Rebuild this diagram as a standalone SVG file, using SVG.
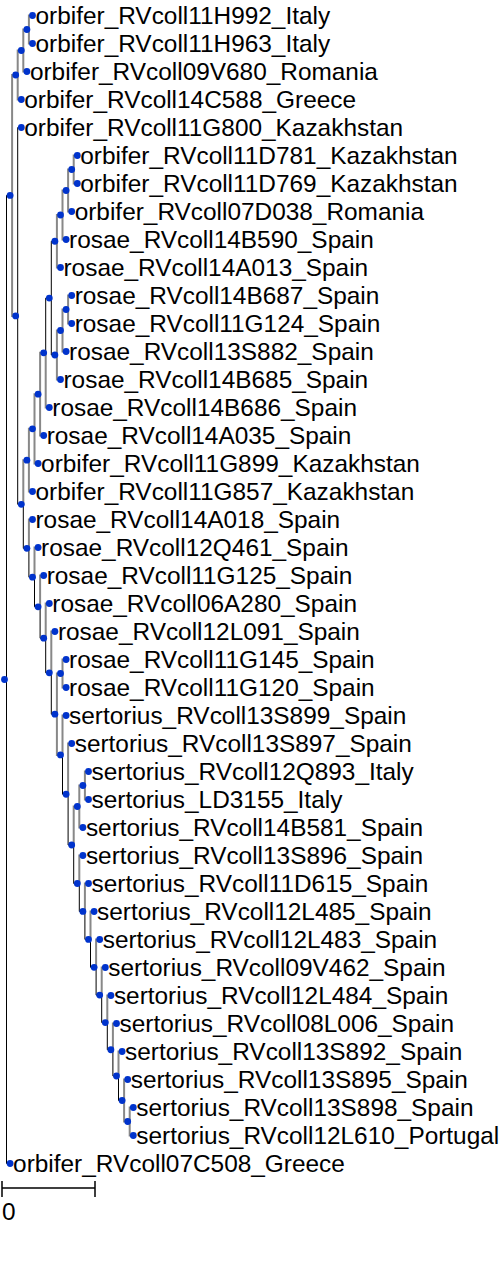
<svg xmlns="http://www.w3.org/2000/svg" width="500" height="1272" viewBox="0 0 500 1272">
<style>
.k{fill:none;stroke:#000;stroke-width:1}
.g{fill:none;stroke:#888;stroke-width:2}
.d{fill:#0033cc}
.t{font-family:"Liberation Sans",Arial,sans-serif;font-size:24.4px;fill:#000}
</style>
<rect width="500" height="1272" fill="#fff"/>
<g id="connectors">
<path class="k" d="M6.5 679.5V195.4H10.1"/>
<path class="k" d="M6.5 679.5V1163.5H10.1"/>
<path class="g" d="M12.1 195.4V75H15.7"/>
<path class="g" d="M12.1 195.4V315.9H15.7"/>
<path class="g" d="M17.7 75V50.5H21.3"/>
<path class="g" d="M17.7 75V99.5H21.3"/>
<path class="g" d="M23.3 50.5V29.5H26.9"/>
<path class="g" d="M23.3 50.5V71.5H26.9"/>
<path class="g" d="M28.9 29.5V15.5H32.5"/>
<path class="g" d="M28.9 29.5V43.5H32.5"/>
<path class="k" d="M17.7 315.9V127.5H21.3"/>
<path class="k" d="M17.7 315.9V504.3H21.3"/>
<path class="g" d="M23.3 504.3V460.2H26.9"/>
<path class="k" d="M23.3 504.3V548.3H26.9"/>
<path class="g" d="M28.9 460.2V428.8H32.5"/>
<path class="g" d="M28.9 460.2V491.5H32.5"/>
<path class="g" d="M34.5 428.8V394.2H38.1"/>
<path class="g" d="M34.5 428.8V463.5H38.1"/>
<path class="g" d="M40.1 394.2V352.8H43.7"/>
<path class="g" d="M40.1 394.2V435.5H43.7"/>
<path class="k" d="M45.7 352.8V298.1H49.3"/>
<path class="g" d="M45.7 352.8V407.5H49.3"/>
<path class="k" d="M51.3 298.1V241.25H54.9"/>
<path class="k" d="M51.3 298.1V355H54.9"/>
<path class="g" d="M56.9 241.25V215H60.5"/>
<path class="g" d="M56.9 241.25V267.5H60.5"/>
<path class="g" d="M62.5 215V190.5H66.1"/>
<path class="g" d="M62.5 215V239.5H66.1"/>
<path class="g" d="M68.1 190.5V169.5H71.7"/>
<path class="g" d="M68.1 190.5V211.5H71.7"/>
<path class="g" d="M73.7 169.5V155.5H77.3"/>
<path class="g" d="M73.7 169.5V183.5H77.3"/>
<path class="g" d="M56.9 355V330.5H60.5"/>
<path class="g" d="M56.9 355V379.5H60.5"/>
<path class="g" d="M62.5 330.5V309.5H66.1"/>
<path class="g" d="M62.5 330.5V351.5H66.1"/>
<path class="g" d="M68.1 309.5V295.5H71.7"/>
<path class="g" d="M68.1 309.5V323.5H71.7"/>
<path class="g" d="M28.9 548.3V519.5H32.5"/>
<path class="k" d="M28.9 548.3V577.2H32.5"/>
<path class="g" d="M34.5 577.2V547.5H38.1"/>
<path class="k" d="M34.5 577.2V606.8H38.1"/>
<path class="g" d="M40.1 606.8V575.5H43.7"/>
<path class="k" d="M40.1 606.8V638.2H43.7"/>
<path class="g" d="M45.7 638.2V603.5H49.3"/>
<path class="k" d="M45.7 638.2V672.85H49.3"/>
<path class="g" d="M51.3 672.85V631.5H54.9"/>
<path class="k" d="M51.3 672.85V714.2H54.9"/>
<path class="g" d="M56.9 714.2V673.5H60.5"/>
<path class="g" d="M56.9 714.2V754.9H60.5"/>
<path class="g" d="M62.5 673.5V659.5H66.1"/>
<path class="g" d="M62.5 673.5V687.5H66.1"/>
<path class="g" d="M62.5 754.9V715.5H66.1"/>
<path class="k" d="M62.5 754.9V794.25H66.1"/>
<path class="g" d="M68.1 794.25V743.5H71.7"/>
<path class="k" d="M68.1 794.25V845H71.7"/>
<path class="g" d="M73.7 845V806.5H77.3"/>
<path class="k" d="M73.7 845V883.5H77.3"/>
<path class="g" d="M79.3 806.5V785.5H82.9"/>
<path class="g" d="M79.3 806.5V827.5H82.9"/>
<path class="g" d="M84.9 785.5V771.5H88.5"/>
<path class="g" d="M84.9 785.5V799.5H88.5"/>
<path class="g" d="M79.3 883.5V855.5H82.9"/>
<path class="k" d="M79.3 883.5V911.45H82.9"/>
<path class="g" d="M84.9 911.45V883.5H88.5"/>
<path class="k" d="M84.9 911.45V939.4H88.5"/>
<path class="g" d="M90.5 939.4V911.5H94.1"/>
<path class="k" d="M90.5 939.4V967.3H94.1"/>
<path class="g" d="M96.1 967.3V939.5H99.7"/>
<path class="k" d="M96.1 967.3V995.1H99.7"/>
<path class="g" d="M101.7 995.1V967.5H105.3"/>
<path class="k" d="M101.7 995.1V1022.6H105.3"/>
<path class="g" d="M107.3 1022.6V995.5H110.9"/>
<path class="k" d="M107.3 1022.6V1049.75H110.9"/>
<path class="g" d="M112.9 1049.75V1023.5H116.5"/>
<path class="k" d="M112.9 1049.75V1076H116.5"/>
<path class="g" d="M118.5 1076V1051.5H122.1"/>
<path class="k" d="M118.5 1076V1100.5H122.1"/>
<path class="g" d="M124.1 1100.5V1079.5H127.7"/>
<path class="g" d="M124.1 1100.5V1121.5H127.7"/>
<path class="g" d="M129.7 1121.5V1107.5H133.3"/>
<path class="g" d="M129.7 1121.5V1135.5H133.3"/>
</g>
<g id="internal-nodes">
<circle id="n-root" class="d" cx="4.5" cy="679.5" r="3.4"/>
<circle id="n-A" class="d" cx="10.1" cy="195.4" r="3.4"/>
<circle id="n-B" class="d" cx="15.7" cy="75" r="3.4"/>
<circle id="n-123" class="d" cx="21.3" cy="50.5" r="3.4"/>
<circle id="n-12" class="d" cx="26.9" cy="29.5" r="3.4"/>
<circle id="n-C" class="d" cx="15.7" cy="315.9" r="3.4"/>
<circle id="n-U" class="d" cx="21.3" cy="504.3" r="3.4"/>
<circle id="n-T" class="d" cx="26.9" cy="460.2" r="3.4"/>
<circle id="n-S" class="d" cx="32.5" cy="428.8" r="3.4"/>
<circle id="n-R" class="d" cx="38.1" cy="394.2" r="3.4"/>
<circle id="n-Q" class="d" cx="43.7" cy="352.8" r="3.4"/>
<circle id="n-P" class="d" cx="49.3" cy="298.1" r="3.4"/>
<circle id="n-N10" class="d" cx="54.9" cy="241.25" r="3.4"/>
<circle id="n-N9" class="d" cx="60.5" cy="215" r="3.4"/>
<circle id="n-678" class="d" cx="66.1" cy="190.5" r="3.4"/>
<circle id="n-67" class="d" cx="71.7" cy="169.5" r="3.4"/>
<circle id="n-N14" class="d" cx="54.9" cy="355" r="3.4"/>
<circle id="n-N13" class="d" cx="60.5" cy="330.5" r="3.4"/>
<circle id="n-1112" class="d" cx="66.1" cy="309.5" r="3.4"/>
<circle id="n-X" class="d" cx="26.9" cy="548.3" r="3.4"/>
<circle id="n-d5" class="d" cx="32.5" cy="577.2" r="3.4"/>
<circle id="n-d6" class="d" cx="38.1" cy="606.8" r="3.4"/>
<circle id="n-d7" class="d" cx="43.7" cy="638.2" r="3.4"/>
<circle id="n-d8" class="d" cx="49.3" cy="672.85" r="3.4"/>
<circle id="n-d9" class="d" cx="54.9" cy="714.2" r="3.4"/>
<circle id="n-2425" class="d" cx="60.5" cy="673.5" r="3.4"/>
<circle id="n-d10" class="d" cx="60.5" cy="754.9" r="3.4"/>
<circle id="n-d11" class="d" cx="66.1" cy="794.25" r="3.4"/>
<circle id="n-d12" class="d" cx="71.7" cy="845" r="3.4"/>
<circle id="n-807" class="d" cx="77.3" cy="806.5" r="3.4"/>
<circle id="n-786" class="d" cx="82.9" cy="785.5" r="3.4"/>
<circle id="n-d13" class="d" cx="77.3" cy="883.5" r="3.4"/>
<circle id="n-d14" class="d" cx="82.9" cy="911.45" r="3.4"/>
<circle id="n-d15" class="d" cx="88.5" cy="939.4" r="3.4"/>
<circle id="n-d16" class="d" cx="94.1" cy="967.3" r="3.4"/>
<circle id="n-d17" class="d" cx="99.7" cy="995.1" r="3.4"/>
<circle id="n-d18" class="d" cx="105.3" cy="1022.6" r="3.4"/>
<circle id="n-d19" class="d" cx="110.9" cy="1049.75" r="3.4"/>
<circle id="n-d20" class="d" cx="116.5" cy="1076" r="3.4"/>
<circle id="n-d21" class="d" cx="122.1" cy="1100.5" r="3.4"/>
<circle id="n-d22" class="d" cx="127.7" cy="1121.5" r="3.4"/>
</g>
<g id="leaf1"><circle class="d" cx="32.5" cy="15.5" r="3.4"/><text class="t" x="35.5" y="24.3">orbifer_RVcoll11H992_Italy</text></g>
<g id="leaf2"><circle class="d" cx="32.5" cy="43.5" r="3.4"/><text class="t" x="35.5" y="52.3">orbifer_RVcoll11H963_Italy</text></g>
<g id="leaf3"><circle class="d" cx="26.9" cy="71.5" r="3.4"/><text class="t" x="29.9" y="80.3">orbifer_RVcoll09V680_Romania</text></g>
<g id="leaf4"><circle class="d" cx="21.3" cy="99.5" r="3.4"/><text class="t" x="24.3" y="108.3">orbifer_RVcoll14C588_Greece</text></g>
<g id="leaf5"><circle class="d" cx="21.3" cy="127.5" r="3.4"/><text class="t" x="24.3" y="136.3">orbifer_RVcoll11G800_Kazakhstan</text></g>
<g id="leaf6"><circle class="d" cx="77.3" cy="155.5" r="3.4"/><text class="t" x="80.3" y="164.3">orbifer_RVcoll11D781_Kazakhstan</text></g>
<g id="leaf7"><circle class="d" cx="77.3" cy="183.5" r="3.4"/><text class="t" x="80.3" y="192.3">orbifer_RVcoll11D769_Kazakhstan</text></g>
<g id="leaf8"><circle class="d" cx="71.7" cy="211.5" r="3.4"/><text class="t" x="74.7" y="220.3">orbifer_RVcoll07D038_Romania</text></g>
<g id="leaf9"><circle class="d" cx="66.1" cy="239.5" r="3.4"/><text class="t" x="69.1" y="248.3">rosae_RVcoll14B590_Spain</text></g>
<g id="leaf10"><circle class="d" cx="60.5" cy="267.5" r="3.4"/><text class="t" x="63.5" y="276.3">rosae_RVcoll14A013_Spain</text></g>
<g id="leaf11"><circle class="d" cx="71.7" cy="295.5" r="3.4"/><text class="t" x="74.7" y="304.3">rosae_RVcoll14B687_Spain</text></g>
<g id="leaf12"><circle class="d" cx="71.7" cy="323.5" r="3.4"/><text class="t" x="74.7" y="332.3">rosae_RVcoll11G124_Spain</text></g>
<g id="leaf13"><circle class="d" cx="66.1" cy="351.5" r="3.4"/><text class="t" x="69.1" y="360.3">rosae_RVcoll13S882_Spain</text></g>
<g id="leaf14"><circle class="d" cx="60.5" cy="379.5" r="3.4"/><text class="t" x="63.5" y="388.3">rosae_RVcoll14B685_Spain</text></g>
<g id="leaf15"><circle class="d" cx="49.3" cy="407.5" r="3.4"/><text class="t" x="52.3" y="416.3">rosae_RVcoll14B686_Spain</text></g>
<g id="leaf16"><circle class="d" cx="43.7" cy="435.5" r="3.4"/><text class="t" x="46.7" y="444.3">rosae_RVcoll14A035_Spain</text></g>
<g id="leaf17"><circle class="d" cx="38.1" cy="463.5" r="3.4"/><text class="t" x="41.1" y="472.3">orbifer_RVcoll11G899_Kazakhstan</text></g>
<g id="leaf18"><circle class="d" cx="32.5" cy="491.5" r="3.4"/><text class="t" x="35.5" y="500.3">orbifer_RVcoll11G857_Kazakhstan</text></g>
<g id="leaf19"><circle class="d" cx="32.5" cy="519.5" r="3.4"/><text class="t" x="35.5" y="528.3">rosae_RVcoll14A018_Spain</text></g>
<g id="leaf20"><circle class="d" cx="38.1" cy="547.5" r="3.4"/><text class="t" x="41.1" y="556.3">rosae_RVcoll12Q461_Spain</text></g>
<g id="leaf21"><circle class="d" cx="43.7" cy="575.5" r="3.4"/><text class="t" x="46.7" y="584.3">rosae_RVcoll11G125_Spain</text></g>
<g id="leaf22"><circle class="d" cx="49.3" cy="603.5" r="3.4"/><text class="t" x="52.3" y="612.3">rosae_RVcoll06A280_Spain</text></g>
<g id="leaf23"><circle class="d" cx="54.9" cy="631.5" r="3.4"/><text class="t" x="57.9" y="640.3">rosae_RVcoll12L091_Spain</text></g>
<g id="leaf24"><circle class="d" cx="66.1" cy="659.5" r="3.4"/><text class="t" x="69.1" y="668.3">rosae_RVcoll11G145_Spain</text></g>
<g id="leaf25"><circle class="d" cx="66.1" cy="687.5" r="3.4"/><text class="t" x="69.1" y="696.3">rosae_RVcoll11G120_Spain</text></g>
<g id="leaf26"><circle class="d" cx="66.1" cy="715.5" r="3.4"/><text class="t" x="69.1" y="724.3">sertorius_RVcoll13S899_Spain</text></g>
<g id="leaf27"><circle class="d" cx="71.7" cy="743.5" r="3.4"/><text class="t" x="74.7" y="752.3">sertorius_RVcoll13S897_Spain</text></g>
<g id="leaf28"><circle class="d" cx="88.5" cy="771.5" r="3.4"/><text class="t" x="91.5" y="780.3">sertorius_RVcoll12Q893_Italy</text></g>
<g id="leaf29"><circle class="d" cx="88.5" cy="799.5" r="3.4"/><text class="t" x="91.5" y="808.3">sertorius_LD3155_Italy</text></g>
<g id="leaf30"><circle class="d" cx="82.9" cy="827.5" r="3.4"/><text class="t" x="85.9" y="836.3">sertorius_RVcoll14B581_Spain</text></g>
<g id="leaf31"><circle class="d" cx="82.9" cy="855.5" r="3.4"/><text class="t" x="85.9" y="864.3">sertorius_RVcoll13S896_Spain</text></g>
<g id="leaf32"><circle class="d" cx="88.5" cy="883.5" r="3.4"/><text class="t" x="91.5" y="892.3">sertorius_RVcoll11D615_Spain</text></g>
<g id="leaf33"><circle class="d" cx="94.1" cy="911.5" r="3.4"/><text class="t" x="97.1" y="920.3">sertorius_RVcoll12L485_Spain</text></g>
<g id="leaf34"><circle class="d" cx="99.7" cy="939.5" r="3.4"/><text class="t" x="102.7" y="948.3">sertorius_RVcoll12L483_Spain</text></g>
<g id="leaf35"><circle class="d" cx="105.3" cy="967.5" r="3.4"/><text class="t" x="108.3" y="976.3">sertorius_RVcoll09V462_Spain</text></g>
<g id="leaf36"><circle class="d" cx="110.9" cy="995.5" r="3.4"/><text class="t" x="113.9" y="1004.3">sertorius_RVcoll12L484_Spain</text></g>
<g id="leaf37"><circle class="d" cx="116.5" cy="1023.5" r="3.4"/><text class="t" x="119.5" y="1032.3">sertorius_RVcoll08L006_Spain</text></g>
<g id="leaf38"><circle class="d" cx="122.1" cy="1051.5" r="3.4"/><text class="t" x="125.1" y="1060.3">sertorius_RVcoll13S892_Spain</text></g>
<g id="leaf39"><circle class="d" cx="127.7" cy="1079.5" r="3.4"/><text class="t" x="130.7" y="1088.3">sertorius_RVcoll13S895_Spain</text></g>
<g id="leaf40"><circle class="d" cx="133.3" cy="1107.5" r="3.4"/><text class="t" x="136.3" y="1116.3">sertorius_RVcoll13S898_Spain</text></g>
<g id="leaf41"><circle class="d" cx="133.3" cy="1135.5" r="3.4"/><text class="t" x="136.3" y="1144.3">sertorius_RVcoll12L610_Portugal</text></g>
<g id="leaf42"><circle class="d" cx="10.1" cy="1163.5" r="3.4"/><text class="t" x="13.1" y="1172.3">orbifer_RVcoll07C508_Greece</text></g>
<g id="scale">
<path class="k" d="M2 1188H95M2 1181V1197M95 1181V1197" style="stroke-width:1.5"/>
<text class="t" x="2" y="1220">0</text>
</g>
</svg>
